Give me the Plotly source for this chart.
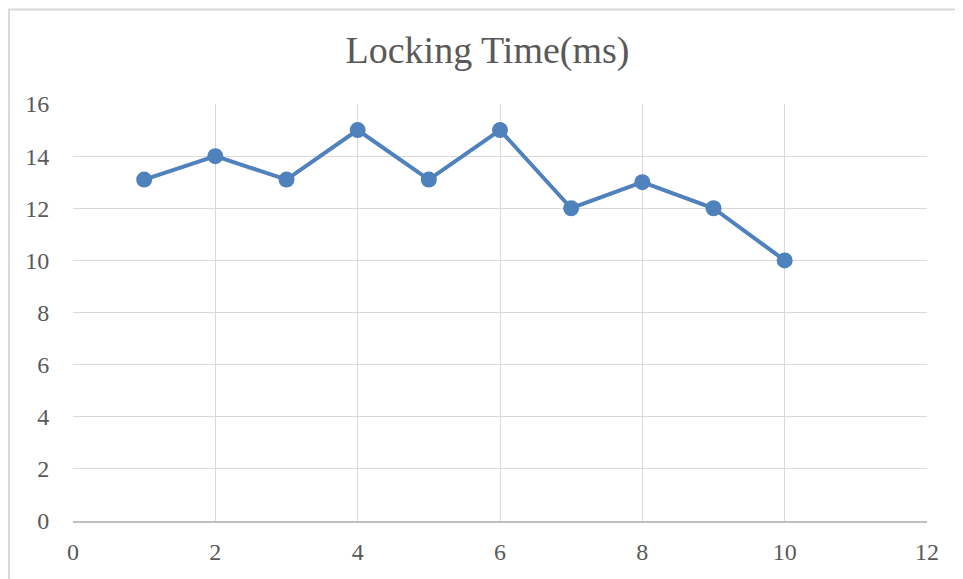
import plotly.graph_objects as go

x_vals = [1, 2, 3, 4, 5, 6, 7, 8, 9, 10]
locking_time = [13.1, 14, 13.1, 15, 13.1, 15, 12, 13, 12, 10]
x_ticks = [0, 2, 4, 6, 8, 10, 12]
y_ticks = [0, 2, 4, 6, 8, 10, 12, 14, 16]
title_text = "Locking Time(ms)"

# the page body has an 8px margin, so the figure is 8px smaller and shifted
OFF = 8
W, H = 963 - OFF, 579 - OFF
L, R, T, B = 73 - OFF, 36, 104 - OFF, 58
pw, ph = W - L - R, H - T - B

fig = go.Figure()
fig.add_trace(go.Scatter(
    x=x_vals, y=locking_time, mode="lines+markers",
    line=dict(color="#4F81BD", width=4),
    marker=dict(color="#4F81BD", size=16),
    showlegend=False,
))

font_family = "Liberation Serif, DejaVu Serif, serif"
fig.update_layout(
    width=W, height=H,
    margin=dict(l=L, r=R, t=T, b=B, pad=0),
    paper_bgcolor="white", plot_bgcolor="white",
    title=dict(text=title_text, x=((345 + 630) / 2 - OFF) / W, xanchor="center",
               y=1 - (50 - OFF) / H, yanchor="middle", yref="container",
               font=dict(family=font_family, size=38, color="#595959")),
    font=dict(family=font_family, color="#595959", size=24),
)
fig.update_xaxes(range=[0, 12], tickvals=x_ticks, showgrid=True, gridcolor="#d9d9d9",
                 gridwidth=1, zeroline=False, showline=True, linecolor="#bfbfbf", linewidth=1.5,
                 ticks="outside", ticklen=8, tickcolor="rgba(0,0,0,0)",
                 tickfont=dict(family=font_family, size=24, color="#595959"))
fig.update_yaxes(range=[0, 16], tickvals=y_ticks, showgrid=True, gridcolor="#d9d9d9",
                 gridwidth=1, zeroline=False, showline=False,
                 ticks="outside", ticklen=18, tickcolor="rgba(0,0,0,0)",
                 tickfont=dict(family=font_family, size=24, color="#595959"))

# outer chart border (left and top visible)
fig.add_shape(type="rect", xref="paper", yref="paper",
              x0=(9 - OFF - L) / pw, x1=(W + 20 - L) / pw,
              y0=-(B + 20) / ph, y1=(H - B - 1.5) / ph,
              line=dict(color="#d9d9d9", width=2), fillcolor="rgba(0,0,0,0)", layer="below")

fig.write_html("out.html")
